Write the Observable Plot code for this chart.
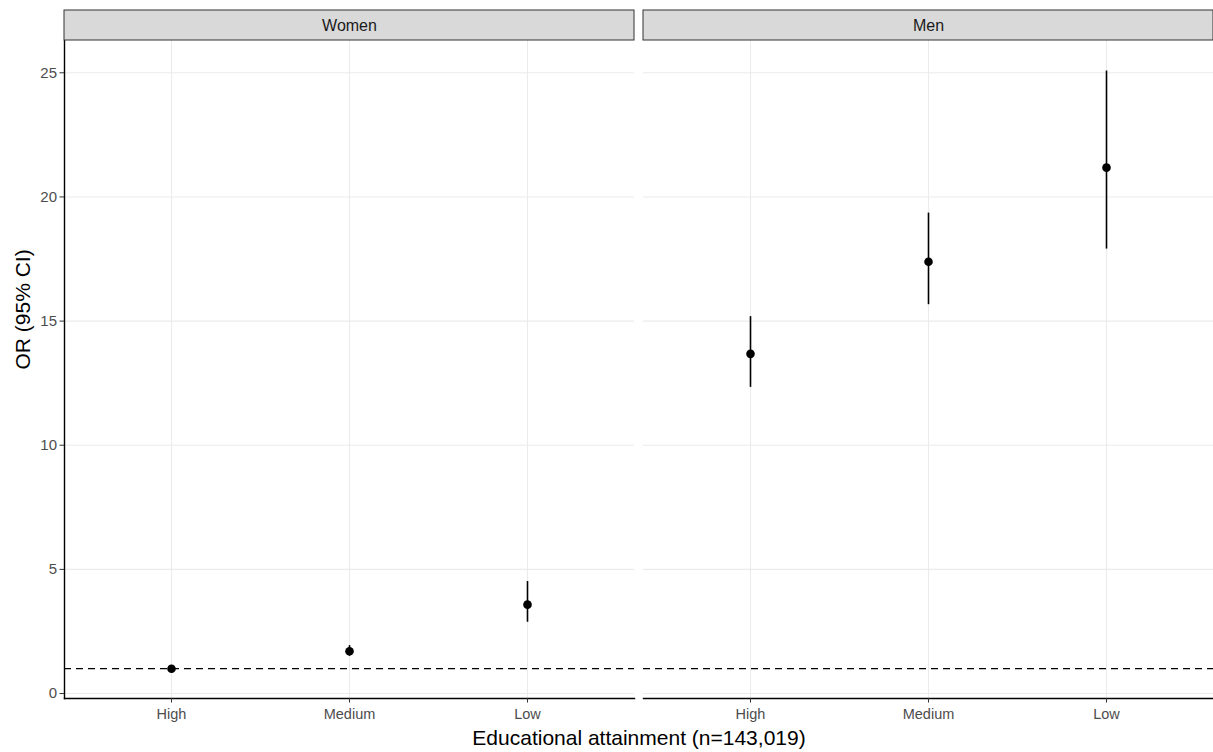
<!DOCTYPE html>
<html>
<head>
<meta charset="utf-8">
<script src="https://cdn.jsdelivr.net/npm/d3@7"></script>
<script src="https://cdn.jsdelivr.net/npm/@observablehq/plot@0.6"></script>
<style>
  html, body { margin: 0; padding: 0; background: #fff; }
  svg { display: block; }
</style>
</head>
<body>
<div id="chart"></div>
<script>
const groups = ["Women", "Men"];
const levels = ["High", "Medium", "Low"];
const sexCol = ["Women", "Women", "Women", "Men", "Men", "Men"];
const eduCol = ["High", "Medium", "Low", "High", "Medium", "Low"];
const orValues = [1.0, 1.7, 3.58, 13.68, 17.39, 21.18];
const ciLow = [0.92, 1.5, 2.87, 12.33, 15.66, 17.9];
const ciHigh = [1.08, 1.93, 4.51, 15.18, 19.35, 25.07];
const yTicks = [0, 5, 10, 15, 20, 25];
const refLine = [1];
const yDomain = [-0.2, 26.3];
const xTitle = "Educational attainment (n=143,019)";
const yTitle = "OR (95% CI)";

const rows = sexCol.map((s, i) => ({sex: s, edu: eduCol[i], or: orValues[i], lo: ciLow[i], hi: ciHigh[i]}));

const font = "'Liberation Sans', Arial, sans-serif";

const chart = Plot.plot({
  width: 1213,
  height: 752,
  marginLeft: 63,
  marginRight: 0,
  marginTop: 40,
  marginBottom: 54,
  style: {fontFamily: font, background: "#fff"},
  fx: {domain: groups, padding: 0.016, axis: null, label: null},
  x: {type: "point", domain: levels, padding: 0.6, label: null},
  y: {domain: yDomain, label: null},
  marks: [
    Plot.gridY(yTicks, {stroke: "#ebebeb", strokeOpacity: 1, strokeWidth: 1.1}),
    Plot.gridX(levels, {stroke: "#ebebeb", strokeOpacity: 1, strokeWidth: 1.1}),
    Plot.ruleY(refLine, {stroke: "#000", strokeWidth: 1.2, strokeDasharray: "7,5"}),
    Plot.ruleX(rows, {fx: "sex", x: "edu", y1: "lo", y2: "hi", stroke: "#000", strokeWidth: 1.6}),
    Plot.dot(rows, {fx: "sex", x: "edu", y: "or", r: 4.3, fill: "#000", stroke: null}),
    Plot.frame({anchor: "bottom", stroke: "#000", strokeWidth: 1.4}),
    Plot.frame({anchor: "left", facetAnchor: "left", stroke: "#000", strokeWidth: 1.4}),
    Plot.rect(groups, {fx: d => d, y1: yDomain[1], y2: yDomain[1], insetTop: -30, fill: "#d9d9d9", stroke: "#333", strokeWidth: 1}),
    Plot.text(groups, {fx: d => d, text: d => d, frameAnchor: "top", lineAnchor: "middle", dy: -15, fontSize: 16, fill: "#1a1a1a"}),
    Plot.axisY(yTicks, {tickSize: 4.5, tickPadding: 3, fontSize: 15, color: "#4d4d4d", stroke: "#333", label: null}),
    Plot.axisX(levels, {tickSize: 4.5, tickPadding: 6, fontSize: 14.5, color: "#4d4d4d", stroke: "#333", label: null}),
    Plot.text([xTitle], {facet: "super", frameAnchor: "bottom", lineAnchor: "middle", dy: 40, fontSize: 21, fill: "#000", text: d => d}),
    Plot.text([yTitle], {facet: "super", frameAnchor: "left", dx: -41, rotate: -90, fontSize: 21, fill: "#000", text: d => d})
  ]
});
document.getElementById("chart").appendChild(chart);
</script>
</body>
</html>
